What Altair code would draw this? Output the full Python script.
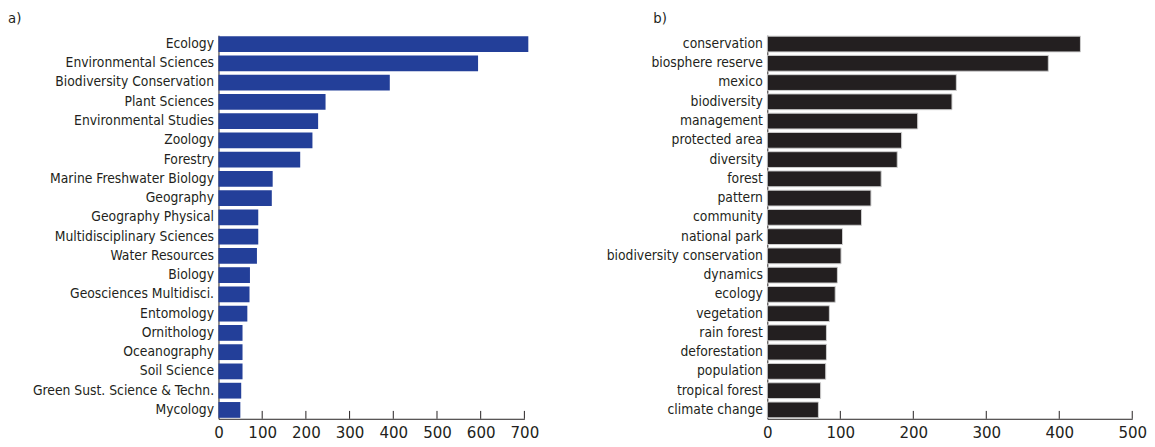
import altair as alt
import pandas as pd

FONT = "DejaVu Sans Condensed, Liberation Sans Narrow, sans-serif"

# Panel a) Web of Science categories
cats_a = ["Ecology", "Environmental Sciences", "Biodiversity Conservation", "Plant Sciences",
          "Environmental Studies", "Zoology", "Forestry", "Marine Freshwater Biology",
          "Geography", "Geography Physical", "Multidisciplinary Sciences", "Water Resources",
          "Biology", "Geosciences Multidisci.", "Entomology", "Ornithology", "Oceanography",
          "Soil Science", "Green Sust. Science & Techn.", "Mycology"]
vals_a = [709, 594, 392, 245, 228, 215, 187, 124, 122, 91, 91, 88, 72, 71, 66, 55, 55, 55, 52, 50]
ticks_a = [100, 200, 300, 400, 500, 600, 700]

# Panel b) keywords
cats_b = ["conservation", "biosphere reserve", "mexico", "biodiversity", "management",
          "protected area", "diversity", "forest", "pattern", "community", "national park",
          "biodiversity conservation", "dynamics", "ecology", "vegetation", "rain forest",
          "deforestation", "population", "tropical forest", "climate change"]
vals_b = [429, 385, 259, 253, 206, 184, 178, 156, 142, 129, 103, 101, 96, 93, 85, 81, 81, 80, 73, 70]
ticks_b = [100, 200, 300, 400, 500]

H = 390


def panel(cats, vals, ticks, xmax, width, color, stroke, label, dx):
    df = pd.DataFrame({"cat": cats, "val": vals})
    tdf = pd.DataFrame({"t": ticks})
    xscale = alt.Scale(domain=[0, xmax], nice=False)
    bar_kwargs = dict(color=color)
    if stroke:
        bar_kwargs.update(stroke=stroke, strokeWidth=1)
    bars = alt.Chart(df).mark_bar(**bar_kwargs).encode(
        x=alt.X("val:Q", scale=xscale,
                axis=alt.Axis(values=[0] + ticks, ticks=False, grid=False, title=None,
                              labelFont=FONT, labelFontSize=17, labelColor="#231f20",
                              labelPadding=6, domainColor="#231f20", domainWidth=1,
                              labelFlush=False)),
        y=alt.Y("cat:N", sort=cats,
                scale=alt.Scale(paddingInner=0.18, paddingOuter=0.05),
                axis=alt.Axis(ticks=False, grid=False, title=None, labelFont=FONT,
                              labelFontSize=14, labelColor="#231f20", labelPadding=5,
                              labelLimit=400, domainColor="#231f20", domainWidth=1)),
    )
    tk = alt.Chart(tdf).mark_rule(color="#231f20", strokeWidth=1).encode(
        x=alt.X("t:Q", scale=xscale),
        y=alt.value(H - 8),
        y2=alt.value(H),
    )
    return alt.layer(bars, tk).properties(
        width=width, height=H,
        title=alt.TitleParams(label, anchor="start", frame="group", dx=dx, offset=9,
                              font=FONT, fontSize=15, fontWeight="normal", color="#231f20"),
    )


left = panel(cats_a, vals_a, ticks_a, 700, 311, "#233f99", None, "a)", -214)
right = panel(cats_b, vals_b, ticks_b, 500, 371, "#231f20", "#cfcfcf", "b)", -116)

chart = alt.hconcat(left, right, spacing=68).properties(padding=0).configure_view(
    stroke=None
)

chart.save("out.html", embed_options={"renderer": "svg", "actions": False})
